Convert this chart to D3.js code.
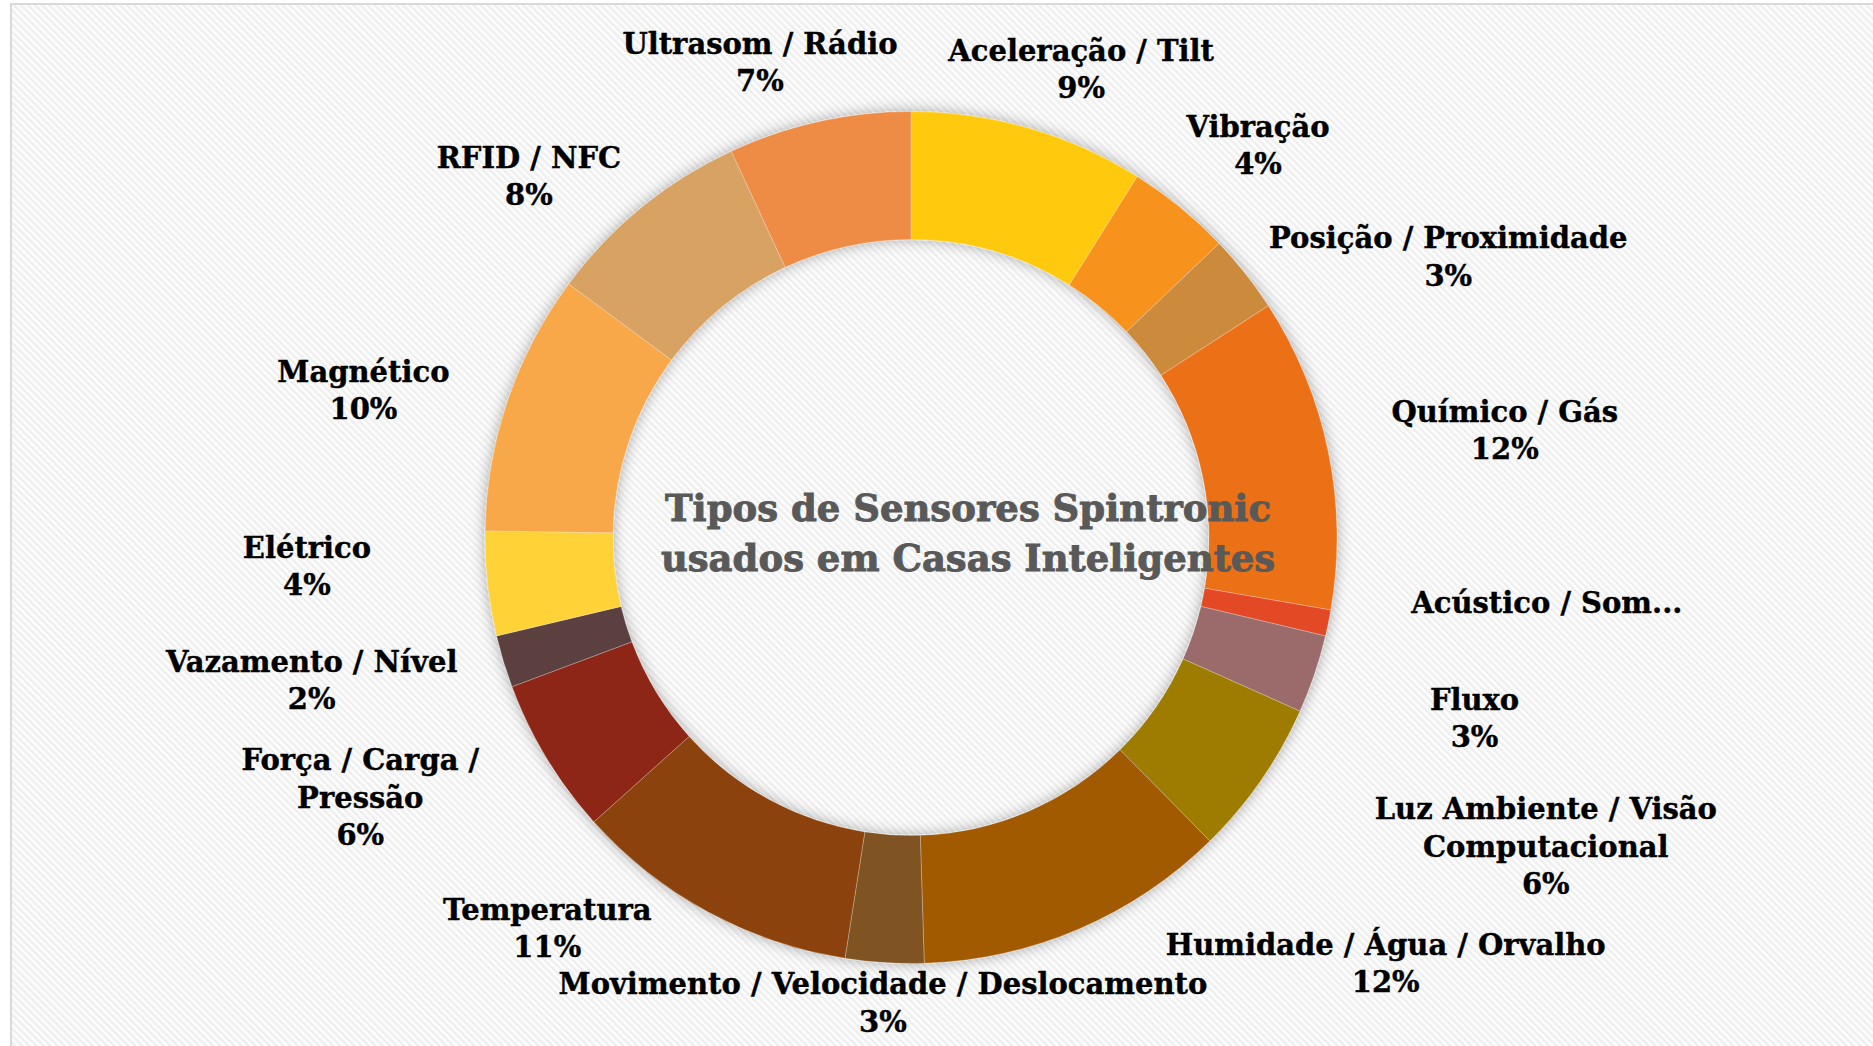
<!DOCTYPE html>
<html lang="pt">
<head>
<meta charset="utf-8">
<title>Tipos de Sensores Spintronic usados em Casas Inteligentes</title>
<script src="https://cdn.jsdelivr.net/npm/d3@7/dist/d3.min.js"></script>
<style>
  html, body { margin: 0; padding: 0; background: #ffffff; }
  svg { display: block; }
  text { font-family: "DejaVu Serif", serif; font-weight: bold; }
</style>
</head>
<body>
<div id="chart"></div>
<script>
// Sensor categories, clockwise from 12 o'clock
const categories = [
  "Aceleração / Tilt",
  "Vibração",
  "Posição / Proximidade",
  "Químico / Gás",
  "Acústico / Som",
  "Fluxo",
  "Luz Ambiente / Visão Computacional",
  "Humidade / Água / Orvalho",
  "Movimento / Velocidade / Deslocamento",
  "Temperatura",
  "Força / Carga / Pressão",
  "Vazamento / Nível",
  "Elétrico",
  "Magnético",
  "RFID / NFC",
  "Ultrasom / Rádio"
];

// Share of each sensor type
const values = [9, 4, 3, 12, 1, 3, 6, 12, 3, 11, 6, 2, 4, 10, 8, 7];

const colors = [
  "#FFC90D", "#F7931E", "#CC8A3E", "#EC7017",
  "#E44826", "#9B6A6A", "#9E7B00", "#A15A05",
  "#7F5321", "#8B430B", "#8D2812", "#5C3F41",
  "#FFD238", "#F9A84A", "#D8A263", "#EE8C45"
];

const titleLines = ["Tipos de Sensores Spintronic", "usados em Casas Inteligentes"];

// ---- label layout ----
// wrapped category labels
const wrapped = {
  "Luz Ambiente / Visão Computacional": ["Luz Ambiente / Visão", "Computacional"],
  "Força / Carga / Pressão": ["Força / Carga /", "Pressão"]
};
// labels cut short by their box: name ends in "..." and the percentage is lost
const clipped = new Set(["Acústico / Som"]);
// hand-placed offsets of each label block from its slice direction
const labelNudge = [
  [32, 12], [31, -5], [145, 29], [104, -7],
  [146, -35], [90, 20], [224, 24], [278, -34],
  [3, -34], [-125, -49], [-123, 1], [-121, -3],
  [-107, -26], [-74, 13], [-66, 26], [-43, 13]
];

const W = 1873, H = 1046;
const cx = 911, cy = 537.5;
const outerR = 426, innerR = 298;
const labelR = 500;
const labelSize = 29, lineGap = 37.5;

const data = categories.map((c, i) => ({ name: c, value: values[i], color: colors[i], i }));
const total = d3.sum(values);
const pct = d3.format(".0%");

const svg = d3.select("#chart").append("svg")
  .attr("width", W).attr("height", H);

const defs = svg.append("defs");

// faint diagonal stripes of the chart area
const pat = defs.append("pattern")
  .attr("id", "stripes")
  .attr("patternUnits", "userSpaceOnUse")
  .attr("width", 5).attr("height", 5)
  .attr("patternTransform", "rotate(-45)");
pat.append("rect").attr("width", 5).attr("height", 5).attr("fill", "#fdfdfd");
pat.append("rect").attr("width", 2.4).attr("height", 5).attr("fill", "#eeeeee");

// soft shadow round the ring
const f = defs.append("filter").attr("id", "ringShadow")
  .attr("x", "-20%").attr("y", "-20%").attr("width", "140%").attr("height", "140%");
f.append("feGaussianBlur").attr("in", "SourceAlpha").attr("stdDeviation", 7).attr("result", "blur");
f.append("feFlood").attr("flood-color", "#000").attr("flood-opacity", 0.33).attr("result", "col");
f.append("feComposite").attr("in", "col").attr("in2", "blur").attr("operator", "in").attr("result", "shadow");
const fm = f.append("feMerge");
fm.append("feMergeNode").attr("in", "shadow");
fm.append("feMergeNode").attr("in", "SourceGraphic");

// chart area with its frame
svg.append("rect")
  .attr("x", 11).attr("y", 4)
  .attr("width", W + 20).attr("height", H + 20)
  .attr("fill", "url(#stripes)")
  .attr("stroke", "#d9d9d9").attr("stroke-width", 2);

const pie = d3.pie().sort(null).value(d => d.value);
const arcs = pie(data);
const arc = d3.arc().innerRadius(innerR).outerRadius(outerR);

const ring = svg.append("g")
  .attr("transform", `translate(${cx},${cy})`)
  .attr("filter", "url(#ringShadow)");

ring.selectAll("path")
  .data(arcs)
  .join("path")
  .attr("d", arc)
  .attr("fill", d => d.data.color)
  .attr("stroke", "rgba(255,255,255,0.35)")
  .attr("stroke-width", 0.75);

// centre title
svg.append("text")
  .attr("x", 968).attr("y", 521)
  .attr("text-anchor", "middle")
  .attr("font-size", 37)
  .attr("fill", "#595959")
  .attr("stroke", "#595959")
  .attr("stroke-width", 0.9)
  .selectAll("tspan")
  .data(titleLines)
  .join("tspan")
  .attr("x", 968)
  .attr("dy", (d, i) => i === 0 ? 0 : 50)
  .text(d => d);

// data labels
const labels = svg.append("g");
arcs.forEach(a => {
  const d = a.data;
  const mid = (a.startAngle + a.endAngle) / 2;
  const ax = cx + labelR * Math.sin(mid) + labelNudge[d.i][0];
  const ay = cy - labelR * Math.cos(mid) + labelNudge[d.i][1];
  let lines;
  if (clipped.has(d.name)) {
    lines = [d.name + "..."];
  } else {
    lines = (wrapped[d.name] || [d.name]).concat(pct(d.value / total));
  }
  const top = ay - (lines.length - 1) * lineGap / 2;
  const t = labels.append("text")
    .attr("text-anchor", "middle")
    .attr("font-size", labelSize)
    .attr("fill", "#000")
    .attr("stroke", "#000")
    .attr("stroke-width", 0.4);
  lines.forEach((ln, k) => {
    t.append("tspan")
      .attr("x", ax)
      .attr("y", top + k * lineGap + labelSize * 0.36)
      .text(ln);
  });
});
</script>
</body>
</html>
